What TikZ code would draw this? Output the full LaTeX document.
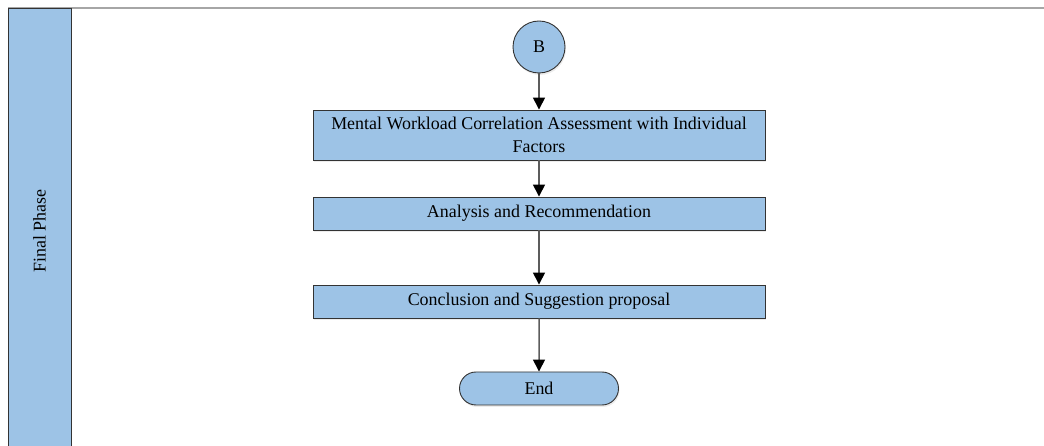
\documentclass[tikz,border=0pt]{standalone}
\usepackage{fontspec}
\setmainfont{Liberation Serif}
\usetikzlibrary{arrows.meta, positioning, shapes.misc, shadows}
\definecolor{LBlue}{HTML}{9DC3E6}
\definecolor{DGrey}{HTML}{333333}
\definecolor{LGrey}{HTML}{A6A6A6}

\begin{document}
\begin{tikzpicture}[x=1bp, y=-1bp,
    flowbox/.style={draw=DGrey, fill=LBlue, line width=0.9bp,
        font=\fontsize{18}{23}\selectfont, align=center,
        drop shadow={opacity=0.15, shadow xshift=1bp, shadow yshift=-2bp}},
    stepbox/.style={flowbox, rectangle, minimum width=452bp, inner sep=0pt},
    flowline/.style={draw=DGrey!80, line width=1.5bp,
        -{Triangle[width=12bp, length=12bp, color=black]}},
  ]

    \useasboundingbox (0,0) rectangle (1044,446);
    \clip (0,0) rectangle (1044,446);

    % Lane
    \draw[LGrey, line width=2bp] (8,8) -- (1044,8);
    \node[draw=DGrey, fill=LBlue, line width=0.9bp, rotate=90,
        minimum width=446bp, minimum height=63bp, inner sep=0pt,
        font=\fontsize{18}{22}\selectfont] (lane) at (39.5,231) {Final Phase};

    % Steps
    \node[flowbox, circle, minimum size=52bp, inner sep=0pt] (B) at (539,47) {B};
    \node[stepbox, minimum height=50bp] (mwa) at (539,135)
        {Mental Workload Correlation Assessment with Individual\\Factors};
    \node[stepbox, minimum height=33bp] (anr) at (539,213.5) {Analysis and Recommendation};
    \node[stepbox, minimum height=33bp] (csp) at (539,301.5) {Conclusion and Suggestion proposal};
    \node[flowbox, rounded rectangle, minimum width=159bp, minimum height=33bp,
        inner sep=0pt] (end) at (539,388.5) {End};

    % Links
    \draw[flowline] (B) -- (mwa);
    \draw[flowline] (mwa) -- (anr);
    \draw[flowline] (anr) -- (csp);
    \draw[flowline] (csp) -- (end);

\end{tikzpicture}
\end{document}
